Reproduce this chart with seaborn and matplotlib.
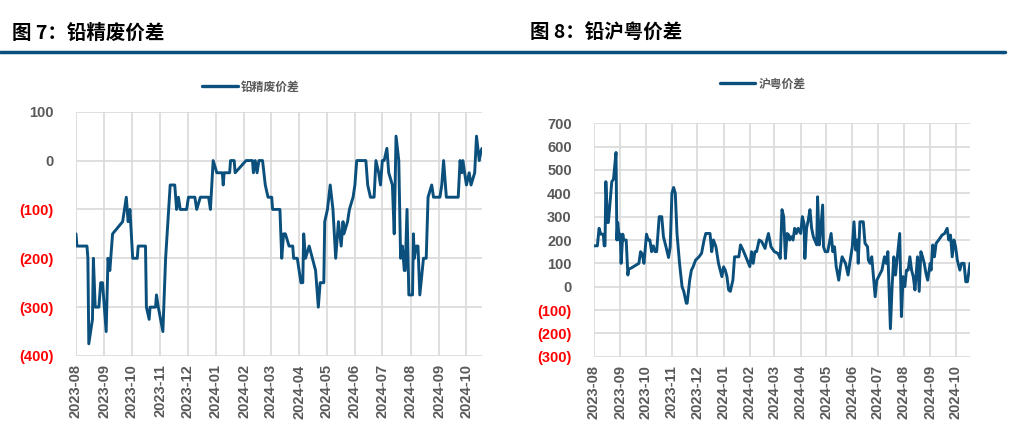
import pandas as pd
import matplotlib
matplotlib.use('Agg')
import matplotlib.pyplot as plt
import matplotlib.dates as mdates
from matplotlib.lines import Line2D
import seaborn as sns

sns.set_style('white')
plt.rcParams['font.family'] = ['Liberation Sans', 'Noto Sans CJK SC', 'DejaVu Sans']

# ---- data: 铅精废价差 ----
jingfei_dates = [
    '2023-08-01', '2023-08-02', '2023-08-13', '2023-08-14', '2023-08-15', '2023-08-19',
    '2023-08-20', '2023-08-22', '2023-08-26', '2023-08-28', '2023-08-30', '2023-09-03',
    '2023-09-05', '2023-09-07', '2023-09-08', '2023-09-10', '2023-09-21', '2023-09-23',
    '2023-09-25', '2023-09-27', '2023-09-29', '2023-10-02', '2023-10-07', '2023-10-08',
    '2023-10-16', '2023-10-17', '2023-10-20', '2023-10-21', '2023-10-27', '2023-10-28',
    '2023-10-30', '2023-11-04', '2023-11-07', '2023-11-12', '2023-11-17', '2023-11-19',
    '2023-11-21', '2023-11-23', '2023-11-30', '2023-12-02', '2023-12-09', '2023-12-11',
    '2023-12-15', '2023-12-24', '2023-12-26', '2023-12-29', '2024-01-02', '2024-01-08',
    '2024-01-09', '2024-01-10', '2024-01-16', '2024-01-17', '2024-01-21', '2024-01-22',
    '2024-02-03', '2024-02-10', '2024-02-11', '2024-02-13', '2024-02-15', '2024-02-17',
    '2024-02-21', '2024-02-24', '2024-02-27', '2024-03-02', '2024-03-03', '2024-03-11',
    '2024-03-13', '2024-03-15', '2024-03-17', '2024-03-21', '2024-03-25', '2024-03-26',
    '2024-03-30', '2024-04-03', '2024-04-05', '2024-04-06', '2024-04-08', '2024-04-12',
    '2024-04-19', '2024-04-22', '2024-04-24', '2024-04-28', '2024-04-29', '2024-05-02',
    '2024-05-05', '2024-05-08', '2024-05-11', '2024-05-14', '2024-05-17', '2024-05-19',
    '2024-05-20', '2024-05-24', '2024-05-26', '2024-05-30', '2024-06-01', '2024-06-03',
    '2024-06-13', '2024-06-15', '2024-06-18', '2024-06-22', '2024-06-24', '2024-06-27',
    '2024-06-29', '2024-07-01', '2024-07-03', '2024-07-06', '2024-07-08', '2024-07-12',
    '2024-07-14', '2024-07-16', '2024-07-19', '2024-07-21', '2024-07-23', '2024-07-25',
    '2024-07-26', '2024-07-28', '2024-07-30', '2024-08-03', '2024-08-04', '2024-08-05',
    '2024-08-07', '2024-08-09', '2024-08-11', '2024-08-15', '2024-08-18', '2024-08-20',
    '2024-08-24', '2024-08-26', '2024-08-31', '2024-09-02', '2024-09-04', '2024-09-06',
    '2024-09-09', '2024-09-22', '2024-09-24', '2024-09-26', '2024-09-27', '2024-10-01',
    '2024-10-04', '2024-10-06', '2024-10-10', '2024-10-12', '2024-10-15', '2024-10-17',
    '2024-10-18',
]
jingfei_values = [
    -150, -175, -175, -200, -375, -325,
    -200, -300, -300, -250, -250, -350,
    -200, -225, -200, -150, -125, -100,
    -75, -125, -100, -200, -200, -175,
    -175, -300, -325, -300, -300, -275,
    -300, -350, -200, -50, -50, -100,
    -75, -100, -100, -75, -75, -100,
    -75, -75, -100, 0, -25, -25,
    -50, -25, -25, 0, 0, -25,
    0, 0, -25, 0, -25, 0,
    0, -50, -75, -75, -100, -100,
    -200, -150, -150, -175, -175, -200,
    -200, -250, -250, -150, -200, -175,
    -225, -300, -250, -250, -125, -100,
    -50, -100, -200, -125, -175, -125,
    -150, -125, -100, -75, -50, 0,
    0, -50, -75, -75, 0, -25,
    -50, 0, 0, 25, -25, -50,
    -150, 50, 0, -200, -175, -225,
    -225, -100, -275, -275, -150, -200,
    -175, -175, -275, -200, -200, -75,
    -50, -75, -75, -75, -50, 0,
    -75, -75, 0, -25, 0, -50,
    -25, -50, -25, 50, 0, 20,
    25,
]

# ---- data: 沪粤价差 ----
huyue_dates = [
    '2023-08-01', '2023-08-05', '2023-08-07', '2023-08-09', '2023-08-12', '2023-08-13',
    '2023-08-14', '2023-08-15', '2023-08-17', '2023-08-18', '2023-08-22', '2023-08-24',
    '2023-08-26', '2023-08-27', '2023-08-28', '2023-08-29', '2023-08-31', '2023-09-01',
    '2023-09-02', '2023-09-04', '2023-09-05', '2023-09-07', '2023-09-08', '2023-09-10',
    '2023-09-11', '2023-09-14', '2023-09-23', '2023-09-25', '2023-09-27', '2023-09-29',
    '2023-10-02', '2023-10-04', '2023-10-06', '2023-10-08', '2023-10-10', '2023-10-12',
    '2023-10-14', '2023-10-17', '2023-10-20', '2023-10-22', '2023-10-25', '2023-10-28',
    '2023-10-30', '2023-11-01', '2023-11-03', '2023-11-05', '2023-11-07', '2023-11-10',
    '2023-11-13', '2023-11-15', '2023-11-18', '2023-11-19', '2023-11-22', '2023-11-24',
    '2023-11-26', '2023-11-29', '2023-12-03', '2023-12-06', '2023-12-09', '2023-12-11',
    '2023-12-16', '2023-12-18', '2023-12-20', '2023-12-23', '2023-12-26', '2023-12-30',
    '2024-01-01', '2024-01-03', '2024-01-05', '2024-01-07', '2024-01-09', '2024-01-12',
    '2024-01-14', '2024-01-16', '2024-01-19', '2024-01-21', '2024-01-24', '2024-01-28',
    '2024-02-01', '2024-02-03', '2024-02-05', '2024-02-07', '2024-02-09', '2024-02-12',
    '2024-02-15', '2024-02-19', '2024-02-21', '2024-02-23', '2024-02-26', '2024-03-01',
    '2024-03-05', '2024-03-08', '2024-03-10', '2024-03-12', '2024-03-14', '2024-03-16',
    '2024-03-18', '2024-03-19', '2024-03-21', '2024-03-23', '2024-03-25', '2024-03-27',
    '2024-03-29', '2024-04-01', '2024-04-03', '2024-04-05', '2024-04-06', '2024-04-08',
    '2024-04-10', '2024-04-12', '2024-04-14', '2024-04-16', '2024-04-20', '2024-04-21',
    '2024-04-23', '2024-04-24', '2024-04-27', '2024-04-28', '2024-04-30', '2024-05-03',
    '2024-05-07', '2024-05-09', '2024-05-11', '2024-05-13', '2024-05-16', '2024-05-18',
    '2024-05-20', '2024-05-24', '2024-05-27', '2024-05-29', '2024-06-01', '2024-06-03',
    '2024-06-05', '2024-06-07', '2024-06-08', '2024-06-10', '2024-06-12', '2024-06-14',
    '2024-06-16', '2024-06-19', '2024-06-20', '2024-06-22', '2024-06-24', '2024-06-28',
    '2024-06-30', '2024-07-03', '2024-07-06', '2024-07-09', '2024-07-11', '2024-07-13',
    '2024-07-16', '2024-07-18', '2024-07-20', '2024-07-22', '2024-07-25', '2024-07-27',
    '2024-07-29', '2024-07-31', '2024-08-02', '2024-08-04', '2024-08-06', '2024-08-08',
    '2024-08-10', '2024-08-12', '2024-08-14', '2024-08-17', '2024-08-19', '2024-08-21',
    '2024-08-23', '2024-08-25', '2024-08-27', '2024-08-29', '2024-09-01', '2024-09-02',
    '2024-09-04', '2024-09-06', '2024-09-08', '2024-09-11', '2024-09-15', '2024-09-18',
    '2024-09-21', '2024-09-23', '2024-09-25', '2024-09-27', '2024-09-29', '2024-10-01',
    '2024-10-03', '2024-10-06', '2024-10-08', '2024-10-11', '2024-10-13', '2024-10-15',
    '2024-10-18',
]
huyue_values = [
    175, 175, 250, 225, 225, 175,
    175, 450, 275, 275, 450, 460,
    540, 575, 200, 275, 200, 225,
    100, 225, 200, 200, 200, 50,
    75, 80, 100, 150, 140, 100,
    225, 200, 200, 150, 175, 150,
    150, 300, 300, 214, 171, 125,
    171, 400, 425, 400, 228, 100,
    0, -20, -71, -71, 28, 71,
    85, 114, 128, 143, 200, 228,
    228, 150, 200, 171, 100, 43,
    85, 71, 43, -14, -20, 28,
    128, 128, 128, 179, 157, 121,
    86, 150, 100, 150, 150, 200,
    193, 164, 200, 228, 171, 150,
    143, 121, 330, 300, 121, 228,
    221, 200, 214, 200, 250, 228,
    250, 228, 300, 271, 121, 250,
    285, 330, 250, 214, 179, 385,
    179, 214, 350, 171, 150, 150,
    228, 150, 171, 86, 28, 86,
    128, 100, 50, 100, 171, 278,
    157, 200, 100, 278, 278, 278,
    186, 171, 114, 100, 128, -43,
    28, 50, 71, 128, 100, 150,
    -180, 0, 128, 50, 157, 228,
    -128, 43, 0, 71, 71, 128,
    71, 43, -14, 128, -20, 150,
    128, 100, 57, 28, 100, 71,
    179, 128, 186, 200, 221, 228,
    250, 200, 221, 128, 200, 171,
    114, 71, 100, 100, 21, 21,
    100,
]

titles = ['图 7：铅精废价差', '图 8：铅沪粤价差']
series_names = ['铅精废价差', '沪粤价差']
left_ticks = [-400, -300, -200, -100, 0, 100]
right_ticks = [-300, -200, -100, 0, 100, 200, 300, 400, 500, 600, 700]

LINE = '#0b4f7c'
GRID = '#d9d9d9'
GRAY = '#595959'
W, H = 1010, 442

df_l = pd.DataFrame({'date': pd.to_datetime(jingfei_dates), 'value': jingfei_values})
df_r = pd.DataFrame({'date': pd.to_datetime(huyue_dates), 'value': huyue_values})

fig = plt.figure(figsize=(W / 100, H / 100), dpi=100)

# axes boxes in pixels: left, top, right, bottom
boxes = [(76, 111.7, 482, 356), (594, 123.3, 970, 356.7)]
legend_pos = [(251, 87), (763, 84)]
title_x = [12, 530]


def fmt(v):
    return f'({abs(v)})' if v < 0 else f'{v}'


for i, (df, ticks) in enumerate([(df_l, left_ticks), (df_r, right_ticks)]):
    l, t, r, b = boxes[i]
    ax = fig.add_axes([l / W, 1 - b / H, (r - l) / W, (b - t) / H])
    sns.lineplot(data=df, x='date', y='value', ax=ax, color=LINE, linewidth=2.1,
                 label=series_names[i])
    ax.set_xlim(df['date'].iloc[0], df['date'].iloc[-1])
    ax.set_ylim(ticks[0], ticks[-1])
    ax.set_yticks(ticks, labels=[fmt(v) for v in ticks])
    for lab, v in zip(ax.get_yticklabels(), ticks):
        lab.set_color('#ff0000' if v < 0 else GRAY)
        lab.set_fontweight('bold')
    ax.xaxis.set_major_locator(mdates.MonthLocator())
    ax.xaxis.set_major_formatter(mdates.DateFormatter('%Y-%m'))
    for lab in ax.get_xticklabels():
        lab.set_rotation(90)
        lab.set_fontweight('bold')
        lab.set_color(GRAY)
    ax.tick_params(axis='x', labelsize=10.5, pad=6, length=0)
    ax.tick_params(axis='y', labelsize=10.5, pad=16, length=0)
    ax.grid(True, color=GRID, linewidth=1.2)
    ax.set_axisbelow(True)
    for s in ax.spines.values():
        s.set_visible(False)
    ax.set_xlabel('')
    ax.set_ylabel('')

    lx, ly = legend_pos[i]
    leg = ax.legend(loc='center', bbox_to_anchor=(lx / W, 1 - ly / H),
                    bbox_transform=fig.transFigure, frameon=False,
                    handlelength=3.0, handletextpad=0.3,
                    prop={'size': 8.5, 'weight': 'bold',
                          'family': ['Noto Sans CJK SC', 'DejaVu Sans']})
    for tx in leg.get_texts():
        tx.set_color(GRAY)
    for ln in leg.get_lines():
        ln.set_linewidth(2.4)

    fig.text(title_x[i] / W, 1 - 33 / H, titles[i], fontsize=14, fontweight='heavy',
             va='center', ha='left', color='black',
             family=['Noto Sans CJK SC', 'DejaVu Sans'])

fig.add_artist(Line2D([0, 1005 / W], [1 - 51.5 / H, 1 - 51.5 / H],
                      color=LINE, linewidth=2.5))

fig.savefig('out.png', dpi=100)
